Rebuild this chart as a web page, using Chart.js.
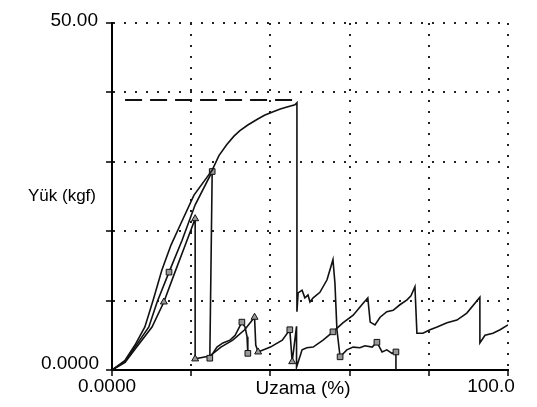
<!DOCTYPE html>
<html>
<head>
<meta charset="utf-8">
<script src="https://cdn.jsdelivr.net/npm/chart.js@4.4.1/dist/chart.umd.min.js"></script>
<style>
  html, body { margin: 0; padding: 0; background: #fff; }
  #wrap { width: 537px; height: 407px; }
</style>
</head>
<body>
<div id="wrap"><canvas id="chart"></canvas></div>
<script>
// Yük (kgf) vs Uzama (%)
const xTickLabels = ['0.0000', '100.0'];
const yTickLabels = ['0.0000', '50.00'];

// main specimen curve (plateau then sawtooth tail)
const mainX = [0, 3.3, 5.8, 8.3, 10.4, 12.6, 14.9, 16.9, 20.7, 25.3, 27.0, 29.0, 30.8, 32.3, 34.3, 36.6, 38.5, 40.7, 42.5, 44.2, 46.2, 46.7, 46.7, 47.0, 48.0, 48.7, 49.5, 50.0, 50.8, 52.5, 54.3, 55.8, 56.3, 56.8, 57.6, 58.1, 59.3, 60.9, 62.6, 63.9, 65.7, 66.9, 68.2, 69.4, 70.7, 71.7, 71.7];
const mainY = [0, 1.4, 3.6, 6.2, 10.1, 14.4, 18.0, 20.5, 25.2, 28.8, 30.9, 32.5, 33.7, 34.5, 35.3, 36.1, 36.7, 37.2, 37.6, 37.9, 38.2, 38.5, 8.4, 11.1, 11.5, 10.4, 10.8, 9.8, 10.4, 11.2, 13.0, 15.9, 12.5, 5.8, 1.9, 2.2, 2.9, 3.3, 3.2, 3.5, 3.3, 4.0, 2.6, 2.9, 2.4, 2.6, 0];
const mainMarks = { 34: 'rect', 41: 'rect', 45: 'rect' };

// second specimen (square markers)
const sqX = [0, 3.3, 5.8, 9.3, 11.4, 14.4, 17.7, 21.0, 25.3, 24.7, 26.5, 28.0, 29.8, 31.1, 32.8, 33.6, 34.1, 34.3];
const sqY = [0, 1.2, 3.3, 6.2, 9.8, 14.1, 18.7, 23.8, 28.6, 1.7, 3.3, 3.9, 4.3, 5.0, 6.9, 6.2, 4.8, 2.4];
const sqMarks = { 5: 'rect', 8: 'rect', 9: 'rect', 14: 'rect', 17: 'rect' };

// third specimen (triangle markers) with long tail to 100 %
const triX = [0, 3.3, 5.8, 10.1, 13.1, 15.9, 18.5, 21.0, 21.0, 24.7, 27.5, 30.5, 33.5, 36.0, 36.3, 36.9, 40.0, 43.0, 44.9, 45.5, 46.6, 46.6, 48.0, 49.2, 50.8, 53.3, 55.8, 58.3, 60.9, 63.1, 64.6, 65.2, 66.4, 67.7, 69.4, 71.0, 72.7, 74.5, 75.5, 76.5, 77.0, 78.5, 80.3, 82.1, 84.6, 87.1, 89.6, 92.9, 92.9, 94.2, 96.2, 98.0, 100];
const triY = [0, 1.1, 3.0, 6.2, 9.8, 14.1, 18.0, 21.8, 1.6, 2.0, 3.3, 4.3, 5.8, 7.6, 3.6, 2.6, 3.3, 4.3, 5.8, 1.2, 6.3, 0.4, 2.9, 3.2, 3.3, 4.3, 5.5, 6.8, 7.9, 9.4, 10.4, 6.9, 6.5, 7.6, 8.4, 8.6, 9.4, 10.1, 10.7, 12.0, 5.3, 5.3, 5.8, 6.2, 6.8, 7.2, 8.2, 10.5, 3.9, 5.0, 5.3, 5.8, 6.5];
const triMarks = { 4: 'triangle', 7: 'triangle', 8: 'triangle', 13: 'triangle', 15: 'triangle', 18: 'rect', 19: 'triangle', 26: 'rect' };

// dashed max-load reference line
const maxLineX = [3.3, 45.7];
const maxLineY = [38.9, 38.9];

const toPoints = (xs, ys) => xs.map((x, i) => ({ x: x, y: ys[i] }));

function curve(xs, ys, marks) {
  return {
    data: toPoints(xs, ys),
    showLine: true,
    borderColor: '#111',
    borderWidth: 1.6,
    pointRadius: c => marks[c.dataIndex] ? 4 : 0,
    pointStyle: c => marks[c.dataIndex] || 'circle',
    pointBackgroundColor: '#999',
    pointBorderColor: '#111',
    pointBorderWidth: 1
  };
}

const labelPlugin = {
  id: 'scanLabels',
  afterDraw(chart) {
    const { ctx, scales: { x, y } } = chart;
    ctx.save();
    ctx.fillStyle = '#000';
    ctx.font = '19px "Liberation Sans", Arial, sans-serif';
    ctx.textBaseline = 'middle';

    ctx.textAlign = 'right';
    ctx.fillText(yTickLabels[1], x.left - 14, y.getPixelForValue(50) - 2);
    ctx.fillText(yTickLabels[0], x.left - 13, y.getPixelForValue(0) - 6);

    ctx.textAlign = 'center';
    ctx.fillText(xTickLabels[0], x.getPixelForValue(0) - 5, y.bottom + 17);
    ctx.fillText(xTickLabels[1], x.getPixelForValue(100) - 17, y.bottom + 17);
    ctx.fillText('Uzama (%)', 303, y.bottom + 19);

    ctx.font = '17px "Liberation Sans", Arial, sans-serif';
    ctx.fillText('Yük (kgf)', 62, 196);
    ctx.restore();
  }
};

const gridOpts = { color: '#222', lineWidth: 2, tickLength: 6, tickWidth: 1.5, tickColor: '#000' };
const borderOpts = { display: true, color: '#000', width: 2, dash: [2, 9] };

new Chart(document.getElementById('chart'), {
  type: 'scatter',
  data: {
    datasets: [
      curve(mainX, mainY, mainMarks),
      curve(sqX, sqY, sqMarks),
      curve(triX, triY, triMarks),
      {
        data: toPoints(maxLineX, maxLineY),
        showLine: true,
        borderColor: '#111',
        borderWidth: 2,
        borderDash: [17, 8],
        pointRadius: 0
      }
    ]
  },
  options: {
    responsive: true,
    maintainAspectRatio: false,
    animation: false,
    layout: { padding: { left: 106, right: 29, top: 23, bottom: 31 } },
    plugins: { legend: { display: false }, tooltip: { enabled: false } },
    scales: {
      x: {
        type: 'linear', min: 0, max: 100,
        ticks: { stepSize: 20, display: false },
        grid: gridOpts,
        border: borderOpts
      },
      y: {
        type: 'linear', min: 0, max: 50,
        ticks: { stepSize: 10, display: false },
        grid: gridOpts,
        border: borderOpts
      }
    }
  },
  plugins: [labelPlugin]
});
</script>
</body>
</html>
